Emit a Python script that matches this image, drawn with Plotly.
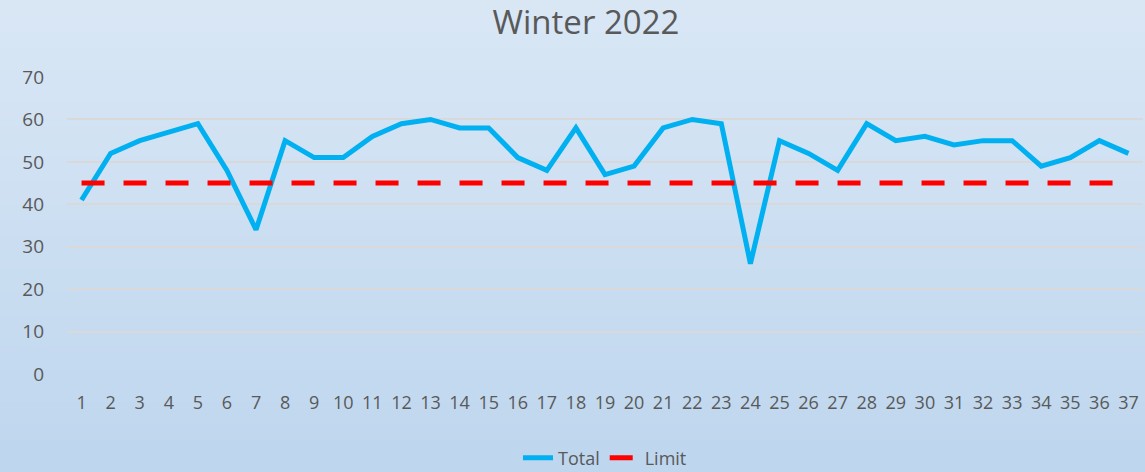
import plotly.graph_objects as go

categories = [str(i) for i in range(1, 38)]
total = [41, 52, 55, 57, 59, 48, 34, 55, 51, 51, 56, 59, 60, 58, 58, 51, 48, 58, 47, 49,
         58, 60, 59, 26, 55, 52, 48, 59, 55, 56, 54, 55, 55, 49, 51, 55, 52]
limit = [45] * 37
y_ticks = [0, 10, 20, 30, 40, 50, 60, 70]

W, H = 1145, 472
ML, MR, MT, MB = 67, 2, 77, 98
FONT = "Open Sans, Liberation Sans, sans-serif"

fig = go.Figure()
fig.add_trace(go.Scatter(x=categories, y=total, mode="lines", name="Total",
                         line=dict(color="#00b0f0", width=5)))
fig.add_trace(go.Scatter(x=categories, y=limit, mode="lines", name="Limit",
                         line=dict(color="#ff0000", width=5, dash="23px,19px")))

# gradient background via stacked bands covering the whole figure
top = (217, 231, 245)
bot = (190, 214, 238)
n = 60
plot_h = H - MT - MB
plot_w = W - ML - MR
y_lo = -MB / plot_h
y_hi = 1 + MT / plot_h
x_lo = -ML / plot_w
x_hi = 1 + MR / plot_w
shapes = []
for i in range(n):
    t = i / (n - 1)
    c = tuple(round(top[k] + (bot[k] - top[k]) * t) for k in range(3))
    y1 = y_hi - (y_hi - y_lo) * i / n
    y0 = y_hi - (y_hi - y_lo) * (i + 1) / n
    shapes.append(dict(type="rect", xref="paper", yref="paper", layer="below",
                       x0=x_lo, x1=x_hi, y0=y0 - 0.004, y1=y1,
                       line=dict(width=0), fillcolor="rgb(%d,%d,%d)" % c))

fig.update_layout(
    width=W, height=H, autosize=False,
    margin=dict(l=ML, r=MR, t=MT, b=MB, autoexpand=False),
    paper_bgcolor="rgb(190,214,238)",
    plot_bgcolor="rgba(0,0,0,0)",
    shapes=shapes,
    title=dict(text="Winter 2022", xref="container", x=586 / W, xanchor="center",
               y=1 - 22 / H, yanchor="middle",
               font=dict(family=FONT, size=33, color="#595959")),
    font=dict(family=FONT, size=18, color="#595959"),
    xaxis=dict(type="category", range=[-0.5, 36.5], showgrid=False, showline=False, ticks="",
               automargin=False,
               tickfont=dict(size=18, color="#595959"), ticklabelstandoff=16),
    yaxis=dict(range=[0, 70], tickvals=y_ticks, showgrid=True, gridcolor="#d9d9d9",
               gridwidth=1.5, zeroline=False, showline=False, ticks="", automargin=False,
               tickfont=dict(size=19, color="#595959"), ticklabelstandoff=22),
    legend=dict(orientation="h", x=0.5, xanchor="center",
                yref="container", y=(H - 458) / H, yanchor="middle",
                font=dict(size=18, color="#595959"), bgcolor="rgba(0,0,0,0)"),
    showlegend=True,
)

fig.write_html(
    "out.html",
    config={"displayModeBar": False, "responsive": False},
    post_script=(
        "var d=document.getElementById('{plot_id}');"
        "d.style.position='fixed';d.style.left='0px';d.style.top='0px';"
        "document.body.style.background='rgb(190,214,238)';"
    ),
)
